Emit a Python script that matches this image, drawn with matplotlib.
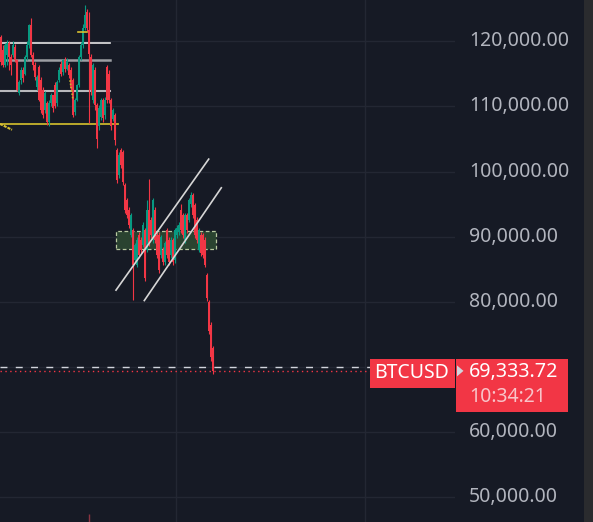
import matplotlib
matplotlib.use("Agg")
import matplotlib.pyplot as plt
import numpy as np
from matplotlib.patches import Rectangle, Polygon

# candle data, thousands of USD, one candle per bar
opens = [120.6, 118.6, 116.3, 117.9, 119.7, 117.6, 117.9, 119.1, 117.1, 112.0,
         114.0, 115.6, 115.0, 117.5, 119.4, 122.5, 117.9, 116.3, 113.0, 116.0,
         114.0, 112.5, 109.4, 110.5, 107.6, 110.5, 111.7, 113.3, 110.5, 114.0,
         116.5, 115.3, 117.1, 115.8, 116.3, 115.6, 114.0, 109.1, 111.0, 113.3,
         117.6, 119.4, 122.0, 124.5, 121.7, 117.6, 111.0, 115.6, 110.2, 107.0,
         108.4, 111.0, 108.7, 116.0, 115.0, 111.0, 108.0, 108.7, 103.3, 99.5,
         103.3, 103.0, 97.9, 95.6, 94.1, 90.3, 91.0, 86.4, 85.7, 90.3,
         89.5, 88.7, 91.0, 88.0, 94.1, 92.6, 89.5, 94.1, 90.3, 90.3,
         87.2, 88.0, 86.1, 91.0, 89.5, 87.2, 89.5, 86.4, 90.3, 90.7,
         94.1, 93.3, 89.5, 93.3, 92.6, 95.0, 96.4, 94.9, 92.6, 88.0,
         90.3, 90.3, 89.5, 84.1, 80.0, 76.5, 72.9]
highs = [120.9, 119.4, 119.7, 120.2, 120.0, 118.0, 120.0, 119.6, 117.3, 114.0,
         116.0, 116.0, 117.9, 120.0, 122.7, 123.5, 118.3, 116.8, 114.8, 116.3,
         114.5, 113.0, 112.3, 110.8, 111.0, 112.0, 111.8, 113.7, 114.0, 116.0,
         116.9, 117.3, 117.6, 117.4, 116.6, 116.0, 114.3, 111.3, 113.5, 117.9,
         119.9, 122.7, 125.5, 124.9, 124.5, 118.0, 116.6, 116.0, 110.5, 110.2,
         111.3, 111.3, 111.5, 116.3, 115.6, 111.3, 109.8, 109.0, 103.6, 103.0,
         103.6, 103.3, 98.2, 96.0, 94.5, 93.6, 91.3, 89.0, 90.0, 90.7,
         90.0, 92.2, 91.3, 95.6, 98.8, 93.0, 95.9, 94.5, 90.7, 90.7,
         90.3, 88.4, 89.4, 91.3, 89.9, 89.9, 89.8, 91.3, 91.8, 92.2,
         95.0, 93.7, 93.6, 93.7, 96.0, 96.8, 96.7, 95.2, 93.0, 91.3,
         90.7, 90.6, 89.9, 84.5, 80.3, 76.9, 73.3]
lows = [116.3, 116.0, 116.0, 116.3, 115.6, 114.8, 117.5, 116.8, 112.3, 111.7,
        113.5, 113.8, 114.8, 117.1, 118.9, 117.6, 115.6, 114.0, 112.5, 110.8,
        109.0, 108.2, 109.0, 107.2, 107.0, 110.0, 109.2, 109.7, 110.0, 113.7,
        114.6, 114.8, 115.3, 115.5, 114.3, 112.5, 108.4, 108.7, 110.8, 113.0,
        117.1, 119.0, 121.7, 121.5, 107.4, 111.7, 110.5, 109.4, 103.6, 106.4,
        107.9, 107.6, 108.0, 110.5, 110.5, 106.4, 107.8, 104.1, 98.3, 99.0,
        100.5, 98.0, 93.6, 92.8, 91.3, 90.0, 80.3, 86.0, 85.4, 86.8,
        87.5, 88.4, 83.2, 87.6, 88.5, 89.8, 89.0, 89.0, 86.8, 84.5,
        86.8, 85.7, 85.7, 86.8, 85.7, 86.8, 85.7, 86.0, 89.8, 90.3,
        90.5, 89.8, 89.0, 90.5, 92.2, 94.5, 92.8, 89.8, 89.0, 87.6,
        87.0, 86.7, 85.3, 80.2, 75.0, 71.0, 69.0]
closes = [116.8, 116.3, 119.4, 119.7, 117.6, 116.3, 119.4, 117.1, 112.5, 113.7,
          115.6, 114.3, 117.5, 119.4, 122.5, 117.9, 116.3, 114.5, 114.5, 111.0,
          109.4, 108.7, 112.0, 107.6, 110.5, 111.7, 109.7, 110.0, 113.7, 115.6,
          115.0, 117.1, 115.8, 117.0, 114.8, 112.8, 108.7, 111.0, 113.3, 117.6,
          119.4, 122.0, 124.0, 122.0, 118.0, 112.5, 116.3, 110.2, 105.0, 109.7,
          111.0, 108.2, 111.0, 111.0, 111.0, 107.0, 109.4, 104.8, 98.7, 102.5,
          101.0, 98.4, 94.1, 93.3, 91.8, 93.3, 85.7, 88.7, 89.5, 87.2,
          88.0, 91.8, 83.7, 94.1, 89.0, 90.3, 95.6, 89.5, 87.2, 84.9,
          90.0, 86.1, 89.0, 87.2, 86.1, 89.5, 86.1, 91.0, 91.3, 91.8,
          91.0, 90.3, 93.3, 91.0, 95.6, 96.4, 93.3, 90.3, 89.5, 91.0,
          87.5, 87.2, 85.7, 80.6, 75.5, 71.5, 69.33372]

price_ticks = [50, 60, 70, 80, 90, 100, 110, 120]
symbol = "BTCUSD"
countdown = "10:34:21"

# drawings (bar index, price in k)
white_levels = [119.7, 117.1, 112.4]
yellow_level = 107.3
zone = (57.5, 107.35, 88.07, 90.83)
channel_a = ((57.5, 81.8), (103.85, 101.9))
channel_b = ((71.65, 80.2), (110.15, 97.5))
user_dash = 69.95

BG = "#161a25"
GRID = "#232733"
UP = "#089981"
DOWN = "#f23645"
TXT = "#b2b5be"

W, H = 593, 522
fig = plt.figure(figsize=(W / 100, H / 100), dpi=100, facecolor=BG)
ax = fig.add_axes([0, 0, 455 / W, 1], facecolor=BG)
ax.set_xlim(-0.5, 227)
ax.set_ylim(46.23, 126.31)
for s in ax.spines.values():
    s.set_visible(False)
ax.set_xticks([])
ax.set_yticks([])

for t in price_ticks:
    ax.axhline(t, color=GRID, lw=1.0, zorder=0)
for gx in [87.5, 182]:
    ax.axvline(gx, color=GRID, lw=1.0, zorder=0)

x = np.arange(len(closes))
o = np.array(opens)
c = np.array(closes)
hi = np.array(highs)
lo = np.array(lows)
col = np.where(c >= o, UP, DOWN)

# level lines
ax.plot([-0.5, 54.5], [white_levels[0]] * 2, color="#e6e6e6", lw=1.2, zorder=2)
ax.plot([-0.5, 54.5], [white_levels[1]] * 2, color="#9c9ea3", lw=1.8, zorder=2)
ax.plot([-0.5, 54.5], [white_levels[2]] * 2, color="#b8b8bc", lw=1.5, zorder=2)
ax.plot([-0.5, 58.5], [yellow_level] * 2, color="#c8b42c", lw=1.3, zorder=2)
ax.plot([-0.5, 5.5], [yellow_level, 106.4], color="#d8c030", lw=1.5, ls=(0, (1.5, 0.5)), zorder=2)
ax.plot([38.5, 43], [121.4, 121.4], color="#d8c030", lw=1.2, zorder=4)
ax.plot([34.5, 36], [114.0, 111.0], color="#c8b42c", lw=1.2, ls=(0, (1, 1)), zorder=4)

# zone
zx0, zx1, zy0, zy1 = zone
ax.add_patch(Rectangle((zx0, zy0), zx1 - zx0, zy1 - zy0, facecolor="#2a4330",
                       edgecolor="#b8c8a0", lw=0.9, ls=(0, (3, 2)), zorder=1))

# candles
ax.vlines(x, lo, hi, colors=col, lw=0.8, zorder=3)
ax.bar(x, np.maximum(np.abs(c - o), 0.15), bottom=np.minimum(o, c), width=0.95,
       color=col, linewidth=0, zorder=3)
ax.vlines(44, 46.23, 47.5, colors="#8c3442", lw=1.0, zorder=3)

# channel
for (p0, p1) in [channel_a, channel_b]:
    ax.plot([p0[0], p1[0]], [p0[1], p1[1]], color="#d6d6d6", lw=1.2, zorder=4)

# last price lines
last = closes[-1]
ax.axhline(user_dash, color="#d1d4dc", lw=1.0, ls=(0, (5, 6)), zorder=2)
ax.axhline(last, color=DOWN, lw=1.0, ls=(0, (1, 2.5)), zorder=2)

# price scale overlay in pixels
ov = fig.add_axes([0, 0, 1, 1], facecolor="none")
ov.set_xlim(0, W)
ov.set_ylim(H, 0)
ov.axis("off")
ov.add_patch(Rectangle((584, 0), 9, H, facecolor="#2a2b2e", lw=0))


def py(p):
    return H - ax.transData.transform((0, p))[1]


plt.rcParams["font.family"] = ["Noto Sans", "DejaVu Sans"]
for t in price_ticks:
    if t == 70:
        continue
    ov.text(469, py(t), f"{t * 1000:,.2f}", color=TXT, fontsize=14,
            ha="left", va="center")

yl = py(last)
ov.add_patch(Rectangle((369.5, yl - 12.5), 85.5, 29, facecolor=DOWN, lw=0))
ov.text(412, yl + 1.5, symbol, color="white", fontsize=14, fontweight="bold",
        ha="center", va="center")
ov.add_patch(Rectangle((456, yl - 12.5), 112, 53, facecolor=DOWN, lw=0))
ov.add_patch(Polygon([[457, yl - 6], [457, yl + 5], [463.5, yl - 0.5]],
                     closed=True, facecolor="#d1d4dc", lw=0))
ov.text(469, yl + 1, f"{last * 1000:,.2f}", color="white", fontsize=14.2,
        fontweight="bold", ha="left", va="center")
ov.text(469, yl + 25.5, countdown, color="#f8c4c9", fontsize=14,
        ha="left", va="center")

fig.savefig("out.png", dpi=100, facecolor=BG)
